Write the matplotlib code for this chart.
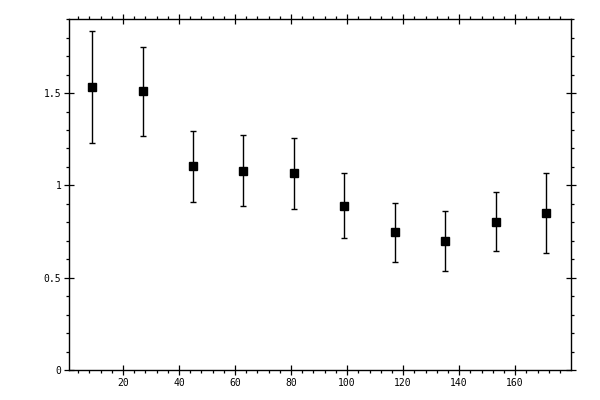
import matplotlib
matplotlib.use("Agg")
import matplotlib.pyplot as plt
from matplotlib.ticker import MultipleLocator, FixedLocator

# data
x = [9, 27, 45, 63, 81, 99, 117, 135, 153, 171]
y = [1.533, 1.513, 1.105, 1.078, 1.067, 0.888, 0.747, 0.698, 0.801, 0.850]
y_hi = [1.837, 1.750, 1.294, 1.273, 1.256, 1.067, 0.904, 0.861, 0.964, 1.067]
y_lo = [1.229, 1.267, 0.909, 0.888, 0.871, 0.714, 0.584, 0.535, 0.644, 0.633]
xticks = [20, 40, 60, 80, 100, 120, 140, 160]
yticks = [0, 0.5, 1, 1.5]
yticklabels = ["0", "0.5", "1", "1.5"]

err = [[a - b for a, b in zip(y, y_lo)], [b - a for a, b in zip(y, y_hi)]]

fig = plt.figure(figsize=(6, 4), dpi=100)
ax = fig.add_axes([0.115, 0.075, 0.836, 0.877])

ax.errorbar(x, y, yerr=err, fmt="s", color="black", ms=5.5,
            elinewidth=1.0, capsize=2.3, capthick=1.0)

ax.set_xlim(0.7, 179.8)
ax.set_ylim(0, 1.9)

ax.xaxis.set_major_locator(FixedLocator(xticks))
ax.xaxis.set_minor_locator(MultipleLocator(4))
ax.set_yticks(yticks)
ax.set_yticklabels(yticklabels)
ax.yaxis.set_minor_locator(MultipleLocator(0.1))

ax.tick_params(which="major", direction="inout", length=7, width=0.9,
               top=True, right=True, labelsize=7, pad=2)
ax.tick_params(which="minor", direction="out", length=2.5, width=0.9,
               top=True, right=True)
for lab in ax.get_xticklabels() + ax.get_yticklabels():
    lab.set_family("DejaVu Sans Mono")

for s in ax.spines.values():
    s.set_linewidth(1.0)

fig.savefig("out.png", dpi=100)
